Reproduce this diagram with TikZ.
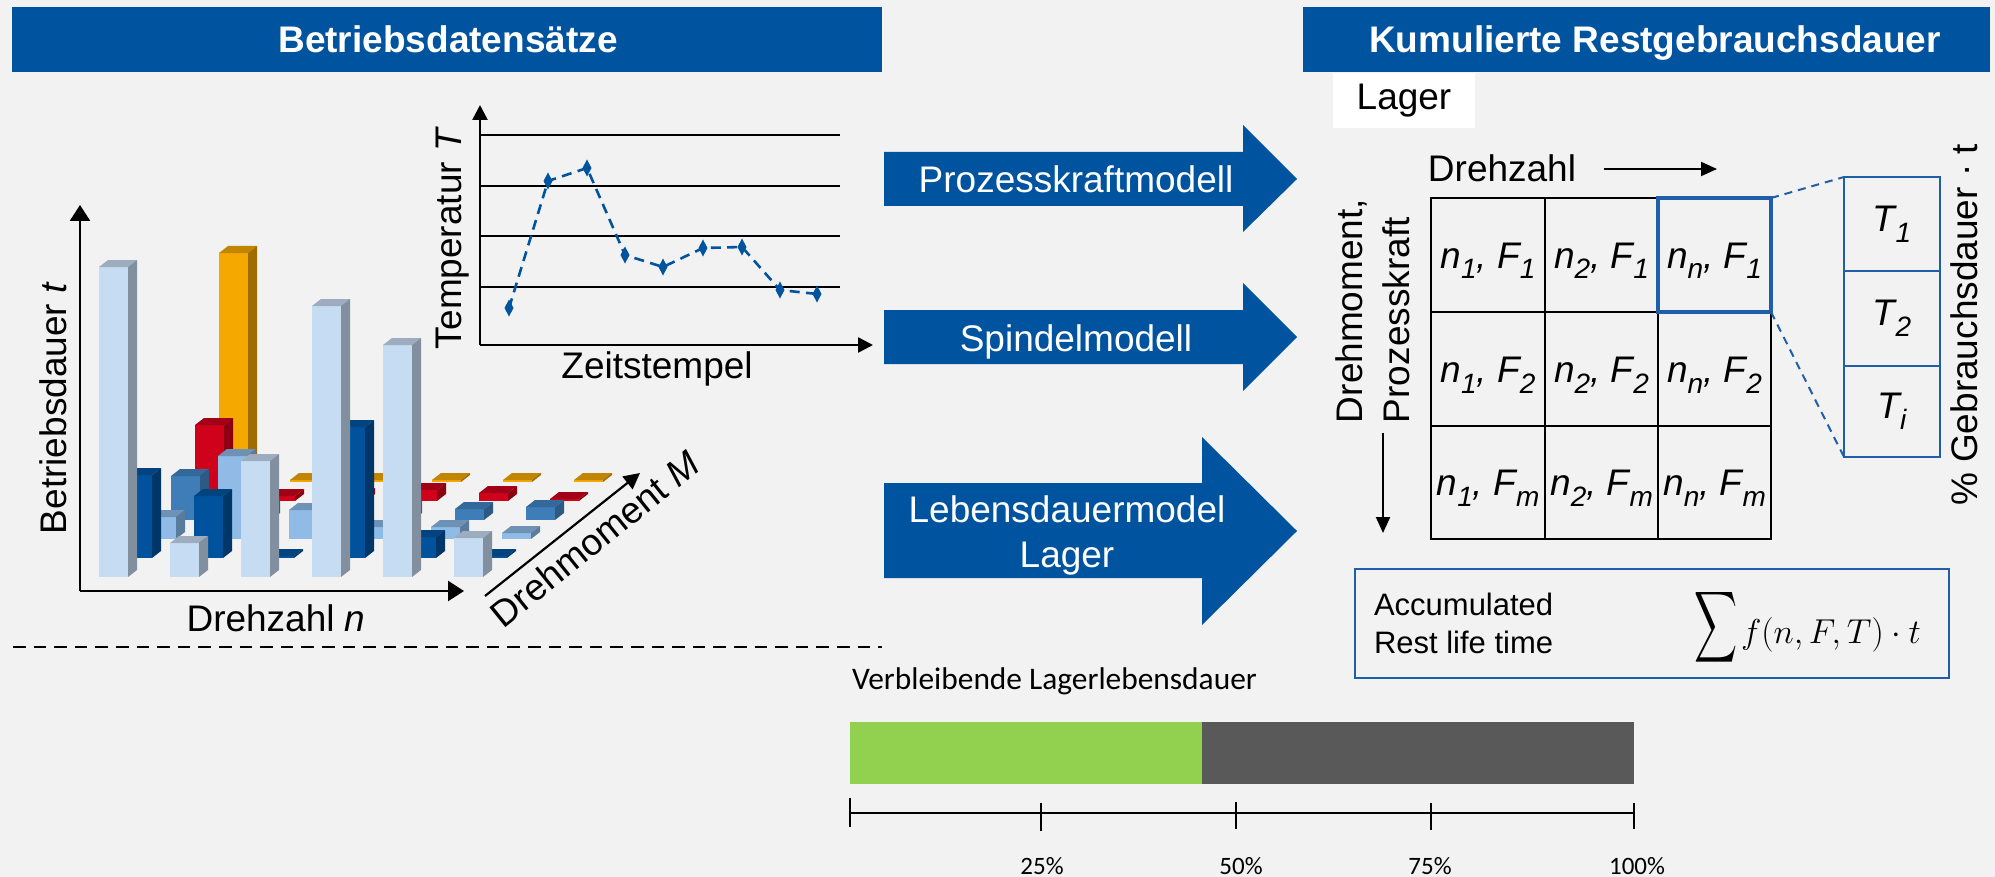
\documentclass[tikz,border=0pt]{standalone}
\usepackage{graphicx}
\usepackage{exscale}
\usepackage{fontspec}
\setmainfont{Liberation Sans}
\newfontfamily\calib{Carlito}
\usetikzlibrary{arrows.meta}
\definecolor{bg}{HTML}{F2F2F2}
\definecolor{rwth}{HTML}{00549F}
\definecolor{oline}{HTML}{1F5FAA}
\definecolor{lgreen}{HTML}{92D050}
\definecolor{dgray}{HTML}{595959}
% bar colours: F front, T top, S side
\definecolor{lbF}{HTML}{C6DCF2}\definecolor{lbT}{HTML}{9DADBF}\definecolor{lbS}{HTML}{818F9E}
\definecolor{dbF}{HTML}{00529C}\definecolor{dbT}{HTML}{00447F}\definecolor{dbS}{HTML}{003668}
\definecolor{mbF}{HTML}{8FBBE6}\definecolor{mbT}{HTML}{6E92B6}\definecolor{mbS}{HTML}{5A7C9C}
\definecolor{sbF}{HTML}{3F7DB8}\definecolor{sbT}{HTML}{33689B}\definecolor{sbS}{HTML}{2C5A85}
\definecolor{rdF}{HTML}{D0021B}\definecolor{rdT}{HTML}{A10016}\definecolor{rdS}{HTML}{8C0012}
\definecolor{orF}{HTML}{F5A800}\definecolor{orT}{HTML}{C28500}\definecolor{orS}{HTML}{9E6C00}
\newcommand\cuboid[4]{%
  \fill[#4F] (#1,#2) rectangle (#1+29,#3);
  \fill[#4T] (#1,#3) -- (#1+9,#3-7) -- (#1+38,#3-7) -- (#1+29,#3) -- cycle;
  \fill[#4S] (#1+29,#2) -- (#1+29,#3) -- (#1+38,#3-7) -- (#1+38,#2-7) -- cycle;}
\newcommand\lowsub[1]{\raisebox{-5.5pt}{\fontsize{14}{14}\selectfont #1}}
\newcommand\cellt[2]{\textit{n\lowsub{#1}, F\lowsub{#2}}}
\newcommand\dia[1]{\fill[rwth] (#1) ++(0,-8.5) -- ++(4.5,8.5) -- ++(-4.5,8.5) -- ++(-4.5,-8.5) -- cycle;}
\tikzset{
  lbl/.style={font=\fontsize{18.5}{22}\selectfont, inner sep=0pt, outer sep=0pt},
  titletext/.style={lbl, font=\fontsize{18.5}{22}\selectfont\bfseries, text=white},
  whitelbl/.style={lbl, text=white},
  axisarrow/.style={line width=1.2pt, -{Triangle[length=8pt,width=10pt]}},
  tempaxis/.style={line width=1.3pt, -{Triangle[length=7.5pt,width=7.5pt]}},
  gridline/.style={line width=0.85pt},
  tbox/.style={lbl, draw=oline, line width=1pt, minimum width=48pt},
  zoomline/.style={oline, line width=1pt, dash pattern=on 4pt off 3pt},
}
\begin{document}
\begin{tikzpicture}[x=0.5pt,y=-0.5pt]
\useasboundingbox (0,0) rectangle (1995,877);
\fill[bg] (0,0) rectangle (1995,877);

% ---------- title bars
\fill[rwth] (12,7) rectangle (882,72);
\node[titletext, anchor=base] (title1) at (448,53) {Betriebsdatensätze};
\fill[rwth] (1303,7) rectangle (1990,72);
\node[titletext, anchor=base] (title2) at (1655,53) {Kumulierte Restgebrauchsdauer};

% ---------- 3D bar chart (back rows first)
\foreach \t [count=\i from 0] in {253,480,480,480,480,480} {\cuboid{219+71*\i}{482}{\t}{or}}
\foreach \t [count=\i from 0] in {425,496,495,490,493,499} {\cuboid{195+71*\i}{501}{\t}{rd}}
\foreach \t [count=\i from 0] in {476,507,512,507,509,507} {\cuboid{171+71*\i}{520}{\t}{sb}}
\foreach \t [count=\i from 0] in {517,456,510,527,527,533} {\cuboid{147+71*\i}{539}{\t}{mb}}
\foreach \t [count=\i from 0] in {475,496,556,427,537,556} {\cuboid{123+71*\i}{558}{\t}{db}}
\foreach \t [count=\i from 0] in {267,543,461,306,345,538} {\cuboid{99+71*\i}{577}{\t}{lb}}

\coordinate (bo) at (80,591);
\coordinate (by) at (80,205);
\coordinate (bx) at (464,591);
\draw[axisarrow] (bo) -- (by);
\draw[axisarrow] (bo) -- (bx);
\coordinate (dm1) at (485,596);
\coordinate (dm2) at (640,473);
\draw[line width=1.1pt, -{Triangle[length=8pt,width=8pt]}] (dm1) -- (dm2);
\node[lbl, rotate=90, anchor=base] (ylab) at (66,408) {Betriebsdauer \textit{t}};
\node[lbl, anchor=base] (xlab) at (276,631) {Drehzahl \textit{n}};
\node[lbl, rotate=39, anchor=base] (mlab) at (603,549) {Drehmoment \textit{M}};

% ---------- temperature chart
\foreach \y in {135,186,236,287} {\draw[gridline] (480,\y) -- (840,\y);}
\coordinate (to) at (480,345);
\coordinate (ty) at (480,105);
\coordinate (tx) at (873,345);
\draw[tempaxis] (to) -- (ty);
\draw[tempaxis] (to) -- (tx);
\coordinate (p1) at (509,308);
\coordinate (p2) at (548,181);
\coordinate (p3) at (587,168);
\coordinate (p4) at (625,255);
\coordinate (p5) at (663,267);
\coordinate (p6) at (703,248);
\coordinate (p7) at (742,247);
\coordinate (p8) at (780,290);
\coordinate (p9) at (817,294);
\draw[rwth, line width=1.3pt, dash pattern=on 5pt off 3.2pt] (p1) -- (p2) -- (p3) -- (p4) -- (p5) -- (p6) -- (p7) -- (p8) -- (p9);
\dia{p1}\dia{p2}\dia{p3}\dia{p4}\dia{p5}\dia{p6}\dia{p7}\dia{p8}\dia{p9}
\node[lbl, rotate=90, anchor=base] (tlab) at (461,238) {Temperatur \textit{T}};
\node[lbl, anchor=base] (zlab) at (657,378) {Zeitstempel};

% ---------- separator
\coordinate (s1) at (13,647);
\coordinate (s2) at (882,647);
\draw[line width=1pt, dash pattern=on 6.3pt off 4pt] (s1) -- (s2);

% ---------- block arrows
\fill[rwth] (884,152) -- (1243,152) -- (1243,125) -- (1297,179) -- (1243,232) -- (1243,206) -- (884,206) -- cycle;
\fill[rwth] (884,310) -- (1243,310) -- (1243,283) -- (1297,337) -- (1243,391) -- (1243,364) -- (884,364) -- cycle;
\fill[rwth] (884,483) -- (1202,483) -- (1202,437) -- (1297,531) -- (1202,625) -- (1202,578) -- (884,578) -- cycle;
\node[whitelbl, anchor=base] (am1) at (1076,193) {Prozesskraftmodell};
\node[whitelbl, anchor=base] (am2) at (1076,351) {Spindelmodell};
\node[whitelbl, anchor=base] (am3a) at (1067,522) {Lebensdauermodel};
\node[whitelbl, anchor=base] (am3b) at (1067,567) {Lager};

% ---------- right section
\node[fill=white, inner sep=0pt, minimum width=71pt, minimum height=27.5pt] (lagerbox) at (1404,100.5) {};
\node[lbl, anchor=base] (lager) at (1404,110) {Lager};
\node[lbl, anchor=base] (drz) at (1502,182) {Drehzahl};
\coordinate (da1) at (1604,169);
\coordinate (da2) at (1717,169);
\draw[line width=1pt, -{Triangle[length=8pt,width=7pt]}] (da1) -- (da2);

\draw[line width=1pt] (1431,198) rectangle (1771,539);
\draw[line width=1pt] (1545,198) -- (1545,539) (1658,198) -- (1658,539)
      (1431,312) -- (1771,312) (1431,426) -- (1771,426);
\node[lbl, anchor=base] (c11) at (1488,268) {\cellt{1}{1}};
\node[lbl, anchor=base] (c21) at (1601.5,268) {\cellt{2}{1}};
\node[lbl, anchor=base] (c31) at (1714.5,268) {\cellt{n}{1}};
\node[lbl, anchor=base] (c12) at (1488,382) {\cellt{1}{2}};
\node[lbl, anchor=base] (c22) at (1601.5,382) {\cellt{2}{2}};
\node[lbl, anchor=base] (c32) at (1714.5,382) {\cellt{n}{2}};
\node[lbl, anchor=base] (c13) at (1488,495) {\cellt{1}{m}};
\node[lbl, anchor=base] (c23) at (1601.5,495) {\cellt{2}{m}};
\node[lbl, anchor=base] (c33) at (1714.5,495) {\cellt{n}{m}};
\node[draw=oline, line width=2pt, inner sep=0pt, outer sep=0pt, minimum width=56.5pt, minimum height=57pt] (hc) at (1714.5,255) {};

\node[lbl, rotate=90, anchor=base west] (dmo) at (1362,423) {Drehmoment,};
\node[lbl, rotate=90, anchor=base west] (pkr) at (1409,423) {Prozesskraft};
\coordinate (va1) at (1383,433);
\coordinate (va2) at (1383,533);
\draw[line width=1pt, -{Triangle[length=8pt,width=7pt]}] (va1) -- (va2);

\node[tbox, minimum height=47pt] (tb1) at (1892,224) {\textit{T\lowsub{1}}};
\node[tbox, minimum height=47.5pt] (tb2) at (1892,318.5) {\textit{T\lowsub{2}}};
\node[tbox, minimum height=45.5pt] (tbi) at (1892,411.5) {\textit{T\lowsub{i}}};
\draw[zoomline] (hc.north east) -- (tb1.north west);
\draw[zoomline] (hc.south east) -- (tbi.south west);
\node[lbl, rotate=90, anchor=base] (gdl) at (1977,325) {\% Gebrauchsdauer · t};

\node[draw=oline, line width=1pt, inner sep=0pt, minimum width=297pt, minimum height=54.5pt] (fbox) at (1652,623.5) {};
\node[lbl, font=\fontsize{15.5}{19}\selectfont, anchor=base west] (acc1) at (1374,615) {Accumulated};
\node[lbl, font=\fontsize{15.5}{19}\selectfont, anchor=base west] (acc2) at (1374,653) {Rest life time};
\node[lbl, font=\fontsize{25.4}{30}\selectfont] (sumsym) at (1716,627.5) {\scalebox{0.6}[1]{$\displaystyle\sum$}};
\node[lbl, font=\fontsize{17.8}{21}\selectfont, anchor=base west] (frm) at (1741,643) {$f(n,F,T)\cdot t$};

% ---------- bottom: remaining life bar
\node[lbl, font=\calib\fontsize{15.7}{18}\selectfont, anchor=base west] (vl) at (852,689) {Verbleibende Lagerlebensdauer};
\fill[lgreen] (850,722) rectangle (1202,784);
\fill[dgray] (1202,722) rectangle (1634,784);
\coordinate (sc0) at (850,813);
\coordinate (sc4) at (1634,813);
\draw[line width=1pt] (sc0) -- (sc4);
\draw[line width=1pt] (850,798) -- (850,827) (1041,803) -- (1041,831) (1236,802) -- (1236,829)
      (1431,803) -- (1431,830) (1634,803) -- (1634,829);
\node[lbl, font=\calib\fontsize{12.5}{15}\selectfont, anchor=base] (pc25) at (1042,874) {25\%};
\node[lbl, font=\calib\fontsize{12.5}{15}\selectfont, anchor=base] (pc50) at (1241,874) {50\%};
\node[lbl, font=\calib\fontsize{12.5}{15}\selectfont, anchor=base] (pc75) at (1430,874) {75\%};
\node[lbl, font=\calib\fontsize{12.5}{15}\selectfont, anchor=base] (pc100) at (1637,874) {100\%};
\end{tikzpicture}
\end{document}
